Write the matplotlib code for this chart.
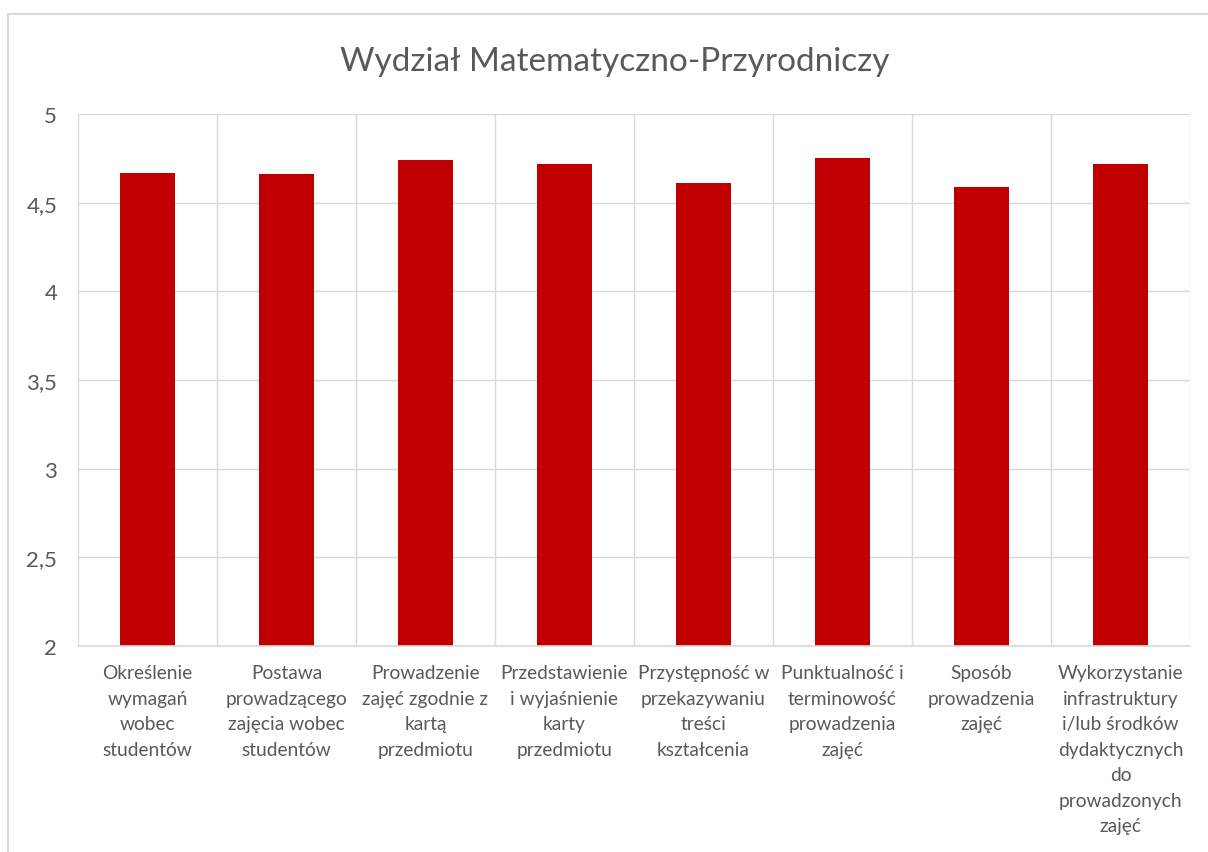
import matplotlib.pyplot as plt
from matplotlib.patches import Rectangle
from matplotlib.ticker import FuncFormatter

plt.rcParams['font.family'] = ['Lato', 'DejaVu Sans']

# category labels, broken into lines like in the original chart
kategorie = [
    "Określenie\nwymagań\nwobec\nstudentów",
    "Postawa\nprowadzącego\nzajęcia wobec\nstudentów",
    "Prowadzenie\nzajęć zgodnie z\nkartą\nprzedmiotu",
    "Przedstawienie\ni wyjaśnienie\nkarty\nprzedmiotu",
    "Przystępność w\nprzekazywaniu\ntreści\nkształcenia",
    "Punktualność i\nterminowość\nprowadzenia\nzajęć",
    "Sposób\nprowadzenia\nzajęć",
    "Wykorzystanie\ninfrastruktury\ni/lub środków\ndydaktycznych\ndo\nprowadzonych\nzajęć",
]
oceny = [4.67, 4.66, 4.74, 4.72, 4.61, 4.75, 4.59, 4.72]
y_ticks = [2, 2.5, 3, 3.5, 4, 4.5, 5]

szary = '#d9d9d9'
tekst = '#595959'

fig = plt.figure(figsize=(12.08, 8.53), dpi=100)
# outer chart frame (cut off at right and bottom like the screenshot)
fig.patches.append(Rectangle((8 / 1208, -0.1), 1.2, 1 - 15 / 853 + 0.1,
                             transform=fig.transFigure, fill=False,
                             edgecolor=szary, linewidth=1.5))

ax = fig.add_axes([78 / 1208, 1 - 647 / 853, (1190 - 78) / 1208, (647 - 115) / 853])

x = range(len(oceny))
ax.bar(x, oceny, width=0.4, color='#c00000', zorder=3)

ax.set_ylim(2, 5)
ax.set_xlim(-0.5, len(oceny) - 0.5)
ax.set_yticks(y_ticks)
ax.yaxis.set_major_formatter(FuncFormatter(lambda v, p: ('%g' % v).replace('.', ',')))

# gridlines between categories
ax.set_xticks([i - 0.5 for i in range(len(oceny) + 1)])
ax.set_xticklabels([])
ax.set_xticks(list(x), minor=True)
ax.set_xticklabels(kategorie, minor=True, fontsize=13.8, color=tekst, linespacing=1.61, va='top')
ax.tick_params(axis='x', which='both', length=0)
ax.tick_params(axis='x', which='minor', pad=13)
ax.tick_params(axis='y', length=0, labelsize=16, labelcolor=tekst, pad=15)

ax.grid(True, which='major', color=szary, linewidth=1, zorder=0)
for s in ax.spines.values():
    s.set_visible(False)
ax.spines['bottom'].set_visible(True)
ax.spines['bottom'].set_color(szary)
ax.spines['bottom'].set_linewidth(1.2)
ax.spines['bottom'].set_zorder(4)

fig.text(615 / 1208, 1 - 62 / 853, "Wydział Matematyczno-Przyrodniczy",
         ha='center', va='center', fontsize=24, color=tekst)

fig.savefig('out.png', dpi=100)
